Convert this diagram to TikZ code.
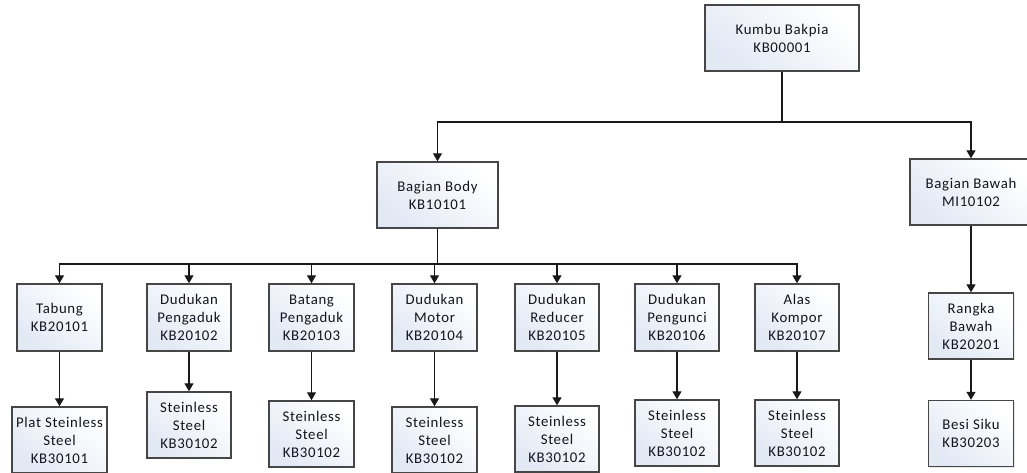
\documentclass[tikz,border=0pt]{standalone}
\usepackage{fontspec}
\setmainfont{Carlito}[LetterSpace=4.5]
\usetikzlibrary{arrows.meta,shadows}
\definecolor{boxfill}{RGB}{226,232,244}
\definecolor{boxline}{RGB}{70,70,70}
\definecolor{txt}{RGB}{20,20,30}
\tikzset{
  box/.style={draw=boxline, line width=1.4pt, top color=white, bottom color=boxfill,
    shading angle=-40, align=center, inner sep=0pt, text=txt,
    font=\fontsize{14.8}{18}\selectfont,
    drop shadow={opacity=0.18, shadow xshift=1pt, shadow yshift=-1pt}},
  lvltwo/.style={box, minimum width=85pt, minimum height=67pt},
  lvlthree/.style={box, minimum width=85pt, minimum height=66pt},
  conn/.style={line width=1.3pt, draw=black!90, -{Triangle[length=8pt,width=9pt]}},
}
\begin{document}
\begin{tikzpicture}[x=1pt,y=-1pt]
\clip (0,0) rectangle (1027,472);
\fill[white] (0,0) rectangle (1027,472);

% top level
\node[box, minimum width=154pt, minimum height=66pt] (root) at (782,38) {Kumbu Bakpia\\KB00001};

% second level
\node[box, minimum width=121pt, minimum height=66pt] (body) at (437.5,195) {Bagian Body\\KB10101};
\node[box, minimum width=122pt, minimum height=66pt] (bawah) at (971,192) {Bagian Bawah\\MI10102};

% bus heights
\coordinate (busA) at (0,122);
\coordinate (busB) at (0,264);

% components of the body
\node[lvltwo] (t1) at (59.5,317.5) {Tabung\\KB20101};
\node[lvltwo, minimum width=84pt] (t2) at (189,317.5) {Dudukan\\Pengaduk\\KB20102};
\node[lvltwo] (t3) at (311.5,317.5) {Batang\\Pengaduk\\KB20103};
\node[lvltwo] (t4) at (434.5,317.5) {Dudukan\\Motor\\KB20104};
\node[lvltwo, minimum width=84pt] (t5) at (557,317.5) {Dudukan\\Reducer\\KB20105};
\node[lvltwo, minimum width=84pt] (t6) at (677,317.5) {Dudukan\\Pengunci\\KB20106};
\node[lvltwo, minimum width=84pt] (t7) at (797,317.5) {Alas\\Kompor\\KB20107};
\node[lvltwo, minimum height=66pt] (t8) at (971,326) {Rangka\\Bawah\\KB20201};

% materials
\node[lvlthree, minimum width=95pt] (m1) at (59.5,440) {Plat Steinless\\Steel\\KB30101};
\node[lvlthree, minimum width=84pt] (m2) at (189,425) {Steinless\\Steel\\KB30102};
\node[lvlthree] (m3) at (311.5,434) {Steinless\\Steel\\KB30102};
\node[lvlthree] (m4) at (434.5,440) {Steinless\\Steel\\KB30102};
\node[lvlthree, minimum width=84pt] (m5) at (557,439) {Steinless\\Steel\\KB30102};
\node[lvlthree, minimum width=84pt] (m6) at (677,433) {Steinless\\Steel\\KB30102};
\node[lvlthree, minimum width=84pt] (m7) at (797,433) {Steinless\\Steel\\KB30102};
\node[lvlthree] (m8) at (971,433.5) {Besi Siku\\KB30203};

% connectors from the top
\draw[conn] (root.south) -- (root.south |- busA) -| (body.north);
\draw[conn] (root.south) -- (root.south |- busA) -| (bawah.north);

% connectors from the body
\foreach \c in {t1,t2,t3,t4,t5,t6,t7}
  \draw[conn] (body.south) -- (body.south |- busB) -| (\c.north);

\draw[conn] (bawah.south) -- (t8.north);

% parts to materials
\foreach \i in {1,...,8}
  \draw[conn] (t\i.south) -- (m\i.north);
\end{tikzpicture}
\end{document}
